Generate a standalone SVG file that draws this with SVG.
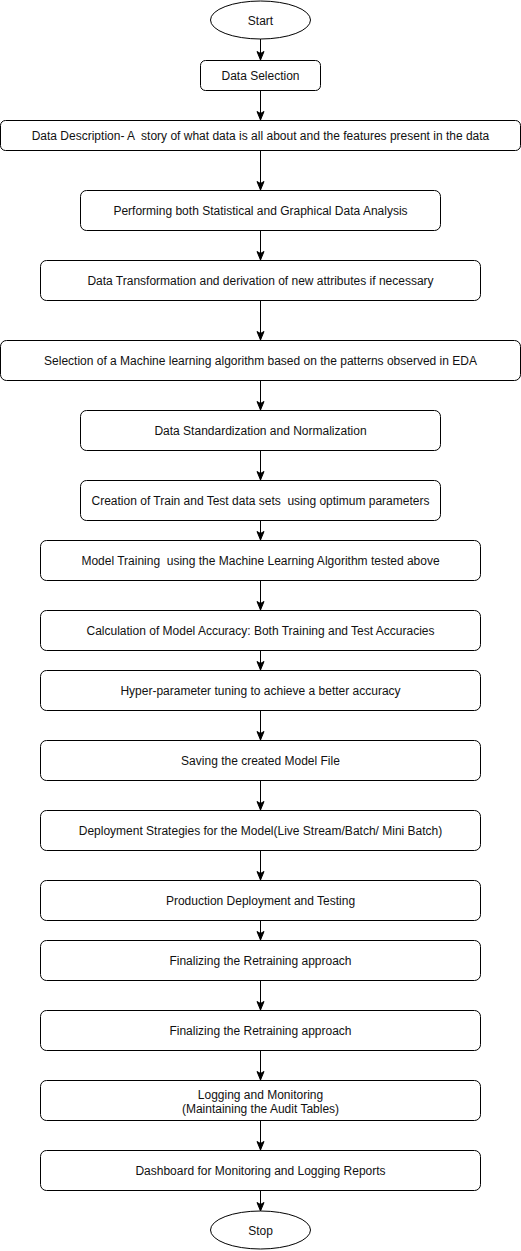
<svg xmlns="http://www.w3.org/2000/svg" width="521" height="1251" viewBox="0 0 521 1251">
<style>
.n{fill:#fff;stroke:#000;stroke-width:1}
.t{font-family:"Liberation Sans",Arial,sans-serif;font-size:12px;fill:#111;text-anchor:middle;white-space:pre}
.c{stroke:#000;stroke-width:1;fill:none;marker-end:url(#a)}
</style>
<defs>
<marker id="a" markerUnits="userSpaceOnUse" markerWidth="10" markerHeight="10" refX="9" refY="4" orient="auto" viewBox="0 0 10 8">
<path d="M0.5,0.5 L9,4 L0.5,7.5 L2.5,4 Z" fill="#000" stroke="#000" stroke-width="1"/>
</marker>
</defs>
<rect width="521" height="1251" fill="#fff"/>
<g id="connectors">
<path class="c" d="M260.5,39 V60"/>
<path class="c" d="M260.5,90 V120"/>
<path class="c" d="M260.5,150 V190"/>
<path class="c" d="M260.5,230 V260"/>
<path class="c" d="M260.5,300 V340"/>
<path class="c" d="M260.5,380 V410"/>
<path class="c" d="M260.5,450 V480"/>
<path class="c" d="M260.5,520 V540"/>
<path class="c" d="M260.5,580 V610"/>
<path class="c" d="M260.5,650 V670"/>
<path class="c" d="M260.5,710 V740"/>
<path class="c" d="M260.5,780 V810"/>
<path class="c" d="M260.5,850 V880"/>
<path class="c" d="M260.5,920 V940"/>
<path class="c" d="M260.5,980 V1010"/>
<path class="c" d="M260.5,1050 V1080"/>
<path class="c" d="M260.5,1120 V1150"/>
<path class="c" d="M260.5,1190 V1211"/>
</g>
<g id="start"><ellipse class="n" cx="260.5" cy="20" rx="50" ry="19"/><text class="t" x="260.5" y="25">Start</text></g>
<g id="n1"><rect class="n" x="200.5" y="60.5" width="120" height="30" rx="5"/><text class="t" x="260.5" y="80">Data Selection</text></g>
<g id="n2"><rect class="n" x="0.5" y="120.5" width="520" height="30" rx="5"/><text class="t" x="260.5" y="140" xml:space="preserve">Data Description- A  story of what data is all about and the features present in the data</text></g>
<g id="n3"><rect class="n" x="80.5" y="190.5" width="360" height="40" rx="6"/><text class="t" x="260.5" y="215">Performing both Statistical and Graphical Data Analysis</text></g>
<g id="n4"><rect class="n" x="40.5" y="260.5" width="440" height="40" rx="6"/><text class="t" x="260.5" y="285">Data Transformation and derivation of new attributes if necessary</text></g>
<g id="n5"><rect class="n" x="0.5" y="340.5" width="520" height="40" rx="6"/><text class="t" x="260.5" y="365">Selection of a Machine learning algorithm based on the patterns observed in EDA</text></g>
<g id="n6"><rect class="n" x="80.5" y="410.5" width="360" height="40" rx="6"/><text class="t" x="260.5" y="435">Data Standardization and Normalization</text></g>
<g id="n7"><rect class="n" x="80.5" y="480.5" width="360" height="40" rx="6"/><text class="t" x="260.5" y="505" xml:space="preserve">Creation of Train and Test data sets  using optimum parameters</text></g>
<g id="n8"><rect class="n" x="40.5" y="540.5" width="440" height="40" rx="6"/><text class="t" x="260.5" y="565" xml:space="preserve">Model Training  using the Machine Learning Algorithm tested above</text></g>
<g id="n9"><rect class="n" x="40.5" y="610.5" width="440" height="40" rx="6"/><text class="t" x="260.5" y="635">Calculation of Model Accuracy: Both Training and Test Accuracies</text></g>
<g id="n10"><rect class="n" x="40.5" y="670.5" width="440" height="40" rx="6"/><text class="t" x="260.5" y="695">Hyper-parameter tuning to achieve a better accuracy</text></g>
<g id="n11"><rect class="n" x="40.5" y="740.5" width="440" height="40" rx="6"/><text class="t" x="260.5" y="765">Saving the created Model File</text></g>
<g id="n12"><rect class="n" x="40.5" y="810.5" width="440" height="40" rx="6"/><text class="t" x="260.5" y="835">Deployment Strategies for the Model(Live Stream/Batch/ Mini Batch)</text></g>
<g id="n13"><rect class="n" x="40.5" y="880.5" width="440" height="40" rx="6"/><text class="t" x="260.5" y="905">Production Deployment and Testing</text></g>
<g id="n14"><rect class="n" x="40.5" y="940.5" width="440" height="40" rx="6"/><text class="t" x="260.5" y="965">Finalizing the Retraining approach</text></g>
<g id="n15"><rect class="n" x="40.5" y="1010.5" width="440" height="40" rx="6"/><text class="t" x="260.5" y="1035">Finalizing the Retraining approach</text></g>
<g id="n16"><rect class="n" x="40.5" y="1080.5" width="440" height="40" rx="6"/><text class="t" x="260.5" y="1099">Logging and Monitoring</text><text class="t" x="260.5" y="1113">(Maintaining the Audit Tables)</text></g>
<g id="n17"><rect class="n" x="40.5" y="1150.5" width="440" height="40" rx="6"/><text class="t" x="260.5" y="1175">Dashboard for Monitoring and Logging Reports</text></g>
<g id="stop"><ellipse class="n" cx="260.5" cy="1230" rx="50" ry="19"/><text class="t" x="260.5" y="1235">Stop</text></g>
</svg>
